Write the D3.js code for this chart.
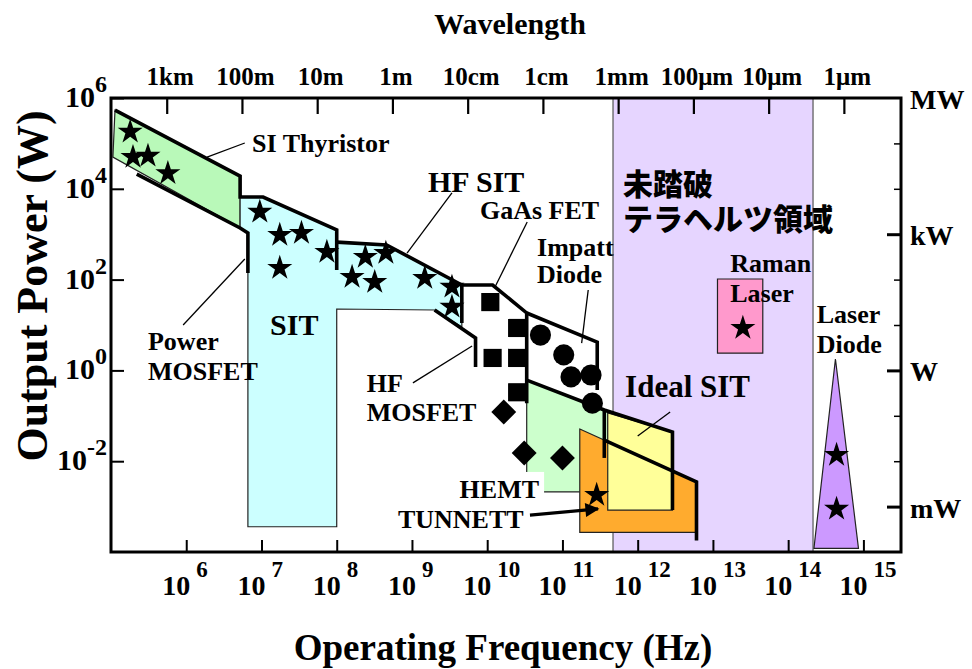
<!DOCTYPE html>
<html>
<head>
<meta charset="utf-8">
<script src="https://cdn.jsdelivr.net/npm/d3@7"></script>
<style>
  body { margin: 0; background: #fff; }
  text { font-family: "Liberation Serif", "Times New Roman", serif; font-weight: bold; fill: #000; }
  .jp { font-family: "Noto Sans CJK JP", sans-serif; font-weight: 900; }
</style>
</head>
<body>
<svg id="chart" width="972" height="669"></svg>
<script>
// ---- axes ----
const freqTicks = [1e6, 1e7, 1e8, 1e9, 1e10, 1e11, 1e12, 1e13, 1e14, 1e15];
const powerTicks = [1e6, 1e4, 1e2, 1, 1e-2];
const unitValues = [1e6, 1e3, 1, 1e-3];
const unitLabels = ["MW", "kW", "W", "mW"];
const unitMinorTicks = [1e5, 1e4, 1e2, 1e1, 1e-1, 1e-2];
const waveLabels = ["1km", "100m", "10m", "1m", "10cm", "1cm", "1mm", "100\u03bcm", "10\u03bcm", "1\u03bcm"];
const waveMeters = [1e3, 1e2, 10, 1, 0.1, 0.01, 1e-3, 1e-4, 1e-5, 1e-6];
const waveRef = 5.5e8; // wavelength (m) x frequency (Hz) used by the top scale

// ---- device regions: [frequency Hz, power W] ----
const terahertzBand = [4.7e11, 2.14e14];
const siThyristorArea = [[1.13e5, 5.4e5], [5.2e6, 1.9e4], [5.2e6, 1.37e3], [1.06e5, 5.0e4]];
const sitArea = [[5.2e6, 6.6e3], [1.05e7, 6.6e3], [1.0e8, 1.24e3], [1.0e8, 670], [4.6e8, 580],
  [4.6e9, 76], [4.6e9, 9.0], [2.0e9, 21.4], [1.0e8, 22.5], [1.0e8, 3.6e-4], [6.6e6, 3.6e-4],
  [6.6e6, 1.06e3], [5.2e6, 1.37e3]];
const hemtArea = [[3.35e10, 0.61], [4.0e11, 0.12], [4.0e11, 2.1e-3], [3.35e10, 2.1e-3]];
const tunnettArea = [[1.7e11, 0.051], [6.05e12, 3.5e-3], [6.05e12, 2.7e-4], [1.7e11, 2.7e-4]];
const idealSitArea = [[4.0e11, 0.115], [2.9e12, 0.044], [2.9e12, 8.4e-4], [4.0e11, 8.4e-4]];
const ramanArea = [[1.15e13, 103], [4.6e13, 103], [4.6e13, 2.4], [1.15e13, 2.4]];
const laserDiodeArea = [[4.25e14, 1.78], [8.6e14, 1.2e-4], [2.2e14, 1.2e-4]];

// ---- performance limit lines ----
const thyristorSitLimit = [[1.13e5, 5.4e5], [5.2e6, 1.9e4], [5.2e6, 6.6e3], [1.05e7, 6.6e3], [1.0e8, 1.24e3], [1.0e8, 163]];
const powerMosfetLimit = [[2.2e5, 2.1e4], [5.2e6, 1.37e3], [6.6e6, 1.06e3], [6.6e6, 140]];
const hfSitLimit = [[1.0e8, 670], [4.6e8, 580], [4.6e9, 76], [4.6e9, 11.1]];
const hfMosfetLimit = [[2.0e9, 21.4], [7.0e9, 5.2], [7.0e9, 1.19]];
const gaasFetLimit = [[4.6e9, 76], [1.18e10, 76], [3.35e10, 18.4], [3.35e10, 0.19]];
const impattLimit = [[3.35e10, 18.4], [2.9e11, 4.2], [2.9e11, 0.37]];
const hemtIdealSitLimit = [[3.35e10, 0.61], [3.6e11, 0.134], [2.9e12, 0.044], [2.9e12, 8.4e-4]];
const idealSitEdge = [[3.6e11, 0.134], [3.6e11, 0.0118]];
const tunnettLimit = [[3.6e11, 0.029], [6.05e12, 3.5e-3], [6.05e12, 1.8e-4]];

// ---- reported devices ----
const thyristorStars = [[1.8e5, 1.8e5], [1.96e5, 5.0e4], [3.1e5, 5.3e4], [5.7e5, 2.2e4]];
const sitStars = [[9.5e6, 3.1e3], [1.75e7, 960], [3.4e7, 1.06e3], [7.4e7, 405], [1.75e7, 180],
  [2.4e8, 315], [4.5e8, 385], [1.6e8, 114], [3.2e8, 88], [1.48e9, 108], [3.4e9, 69], [3.4e9, 25]];
const gaasFetPoints = [[1.1e10, 32], [2.5e10, 8.6], [1.18e10, 1.88], [2.5e10, 1.88], [2.5e10, 0.33]];
const impattPoints = [[5.1e10, 6.0], [1.04e11, 2.2], [1.3e11, 0.72], [2.4e11, 0.79], [2.5e11, 0.19]];
const hemtPoints = [[1.66e10, 0.121], [3.1e10, 0.0152], [1.0e11, 0.0118]];
const tunnettStars = [[2.85e11, 1.8e-3]];
const ramanStars = [[2.5e13, 8.6]];
const laserDiodeStars = [[4.4e14, 0.0137], [4.4e14, 8.9e-4]];

// ---- annotations ----
const labelTexts = ["SI Thyristor", "HF SIT", "GaAs FET", "Impatt", "Diode", "SIT", "Power", "MOSFET",
  "HF", "MOSFET", "HEMT", "TUNNETT", "Ideal SIT", "Raman", "Laser", "Laser", "Diode"];
const labelAnchors = [[7.5e6, 6.5e4], [1.63e9, 8.5e3], [8.0e9, 2.16e3], [4.6e10, 331], [4.6e10, 84],
  [1.3e7, 6.0], [3.1e5, 2.8], [3.1e5, 0.62], [2.5e8, 0.33], [2.5e8, 0.077], [4.3e9, 1.55e-3],
  [6.5e8, 3.4e-4], [6.8e11, 0.26], [1.7e13, 147], [1.7e13, 32], [2.4e14, 11.1], [2.4e14, 2.4]];
const labelSizes = [26, 30, 26, 26, 26, 30, 26, 26, 26, 26, 26, 26, 31, 26, 26, 26, 26];
const regionTitle = ["未踏破", "テラヘルツ領域"];
const regionTitleAnchors = [[6.4e11, 7.3e3], [6.4e11, 1.24e3]];
const leaderLines = [
  [[1.89e6, 5.0e4], [6.0e6, 1.02e5]],
  [[8.6e8, 385], [3.4e9, 8.1e3]],
  [[1.27e10, 69], [3.4e10, 1.86e3]],
  [[1.8e11, 4.0], [2.2e11, 59]],
  [[1.03e9, 0.53], [6.3e9, 3.44]],
  [[9.1e5, 10], [6.0e6, 285]],
  [[1.0e12, 0.036], [2.7e12, 0.121]]
];
const tunnettArrow = [[3.7e10, 6.5e-4], [2.97e11, 8.9e-4]];

// ---- layout ----
const width = 972, height = 669;
const margin = { top: 98, right: 71, bottom: 117, left: 111 };
const x = d3.scaleLog().domain([1e5, 3.16e15]).range([margin.left, width - margin.right]);
const y = d3.scaleLog().domain([1e-4, 1e6]).range([height - margin.bottom, margin.top]);
const waveScale = d3.scaleLog()
  .domain(x.domain().map(f => waveRef / f))
  .range(x.range());
const x0 = margin.left, x1 = width - margin.right, y0 = height - margin.bottom, y1 = margin.top;

const svg = d3.select("#chart");
const line = d3.line().x(d => x(d[0])).y(d => y(d[1]));
const poly = pts => line(pts) + "Z";

// terahertz gap band
svg.append("rect")
  .attr("x", x(terahertzBand[0])).attr("y", y1)
  .attr("width", x(terahertzBand[1]) - x(terahertzBand[0]))
  .attr("height", y0 - y1)
  .attr("fill", "#e6d5ff").attr("stroke", "#555").attr("stroke-width", 1.2);

// filled regions
const regions = [
  [siThyristorArea, "#b9f9b9"],
  [sitArea, "#ccffff"],
  [hemtArea, "#ccffcc"],
  [tunnettArea, "#ffab2e"],
  [idealSitArea, "#ffff99"],
  [ramanArea, "#ff99cc"],
  [laserDiodeArea, "#cc99ff"]
];
svg.append("g").selectAll("path").data(regions).join("path")
  .attr("d", d => poly(d[0]))
  .attr("fill", d => d[1])
  .attr("stroke", "#222").attr("stroke-width", 1.2).attr("stroke-linejoin", "miter");

// limit lines
const limits = [thyristorSitLimit, powerMosfetLimit, hfSitLimit, hfMosfetLimit, gaasFetLimit,
  impattLimit, hemtIdealSitLimit, idealSitEdge, tunnettLimit];
svg.append("g").selectAll("path").data(limits).join("path")
  .attr("d", line)
  .attr("fill", "none").attr("stroke", "#000").attr("stroke-width", 3.6)
  .attr("stroke-linejoin", "miter");

// leader lines
svg.append("g").selectAll("path").data(leaderLines).join("path")
  .attr("d", line).attr("fill", "none").attr("stroke", "#000").attr("stroke-width", 1.3);

// arrow to TUNNETT
svg.append("defs").append("marker")
  .attr("id", "arrow").attr("viewBox", "0 0 10 10").attr("refX", 9).attr("refY", 5)
  .attr("markerUnits", "userSpaceOnUse").attr("markerWidth", 20).attr("markerHeight", 14)
  .attr("orient", "auto")
  .append("path").attr("d", "M0,0L10,5L0,10Z").attr("fill", "#000");
svg.append("path").attr("d", line(tunnettArrow))
  .attr("stroke", "#000").attr("stroke-width", 3.2).attr("fill", "none")
  .attr("marker-end", "url(#arrow)");

// markers
const starPath = d3.symbol().type(d3.symbolStar).size(195)();
const squarePath = d3.symbol().type(d3.symbolSquare).size(330)();
const circlePath = d3.symbol().type(d3.symbolCircle).size(350)();
const diamondPath = d3.symbol().type(d3.symbolSquare).size(310)();
function drawMarks(points, path, rotate) {
  svg.append("g").selectAll("path").data(points).join("path")
    .attr("d", path)
    .attr("transform", d => `translate(${x(d[0])},${y(d[1])})` + (rotate ? ` rotate(${rotate})` : ""))
    .attr("fill", "#000");
}
drawMarks(thyristorStars, starPath);
drawMarks(sitStars, starPath);
drawMarks(gaasFetPoints, squarePath);
drawMarks(impattPoints, circlePath);
drawMarks(hemtPoints, diamondPath, 45);
drawMarks(tunnettStars, starPath);
drawMarks(ramanStars, starPath);
drawMarks(laserDiodeStars, starPath);

// device labels
const labelG = svg.append("g");
labelTexts.forEach((t, i) => {
  const txt = labelG.append("text")
    .attr("x", x(labelAnchors[i][0])).attr("y", y(labelAnchors[i][1]))
    .attr("font-size", labelSizes[i]).text(t);
  if (t === "HEMT") {
    const b = txt.node().getBBox();
    labelG.insert("rect", () => txt.node())
      .attr("x", b.x - 5).attr("y", b.y - 3).attr("width", b.width + 10).attr("height", b.height + 4)
      .attr("fill", "#fff");
  }
});
// two-line title of the terahertz gap, set as one text block
const jpTitle = svg.append("text").attr("class", "jp").attr("font-size", 30);
regionTitle.forEach((t, i) => {
  jpTitle.append("tspan")
    .attr("x", x(regionTitleAnchors[i][0])).attr("y", y(regionTitleAnchors[i][1]))
    .text(t);
});

// ---- axes ----
svg.append("g").attr("transform", `translate(0,${y0})`)
  .call(d3.axisBottom(x).tickValues(freqTicks).tickSizeInner(-12).tickSizeOuter(0).tickFormat(""))
  .call(g => { g.select(".domain").remove(); g.selectAll("line").attr("stroke-width", 2); });
svg.append("g").attr("transform", `translate(${x0},0)`)
  .call(d3.axisLeft(y).tickValues(powerTicks).tickSizeInner(-13).tickSizeOuter(0).tickFormat(""))
  .call(g => { g.select(".domain").remove(); g.selectAll("line").attr("stroke-width", 2); });
svg.append("g").attr("transform", `translate(0,${y1})`)
  .call(d3.axisTop(waveScale).tickValues(waveMeters).tickSizeInner(-16).tickSizeOuter(0)
    .tickPadding(13).tickFormat((d, i) => waveLabels[i]))
  .call(g => {
    g.select(".domain").remove();
    g.selectAll("line").attr("stroke-width", 2.2);
    g.selectAll("text").attr("font-size", 25).attr("dx", 3)
      .attr("font-family", "Liberation Serif, serif").attr("font-weight", "bold");
  });
svg.append("g").attr("transform", `translate(${x1},0)`)
  .call(d3.axisRight(y).tickValues(unitMinorTicks).tickSizeInner(-7).tickSizeOuter(0).tickFormat(""))
  .call(g => { g.select(".domain").remove(); g.selectAll("line").attr("stroke-width", 1.5); });
svg.append("g").attr("transform", `translate(${x1},0)`)
  .call(d3.axisRight(y).tickValues(unitValues.slice(1)).tickSizeInner(-14).tickSizeOuter(0).tickFormat(""))
  .call(g => { g.select(".domain").remove(); g.selectAll("line").attr("stroke-width", 3); });

// frequency tick labels 10^n
freqTicks.forEach(f => {
  const e = Math.round(Math.log10(f));
  svg.append("text").attr("x", x(f) - 24).attr("y", y0 + 43).attr("font-size", 28).text("10");
  svg.append("text").attr("x", x(f) + 10).attr("y", y0 + 25).attr("font-size", 23).text(e);
});
// power tick labels 10^n
powerTicks.forEach(p => {
  const e = Math.round(Math.log10(p));
  const t = svg.append("text").attr("x", x0 - 4).attr("y", y(p) + 9)
    .attr("text-anchor", "end").attr("font-size", 30);
  t.append("tspan").text("10");
  t.append("tspan").attr("font-size", 24).attr("dy", -15).text(e);
});
// unit labels on the right
unitValues.forEach((v, i) => {
  svg.append("text").attr("x", x1 + 9).attr("y", y(v) + 11).attr("font-size", 28).text(unitLabels[i]);
});

// frame
svg.append("rect").attr("x", x0).attr("y", y1).attr("width", x1 - x0).attr("height", y0 - y1)
  .attr("fill", "none").attr("stroke", "#000").attr("stroke-width", 3);

// titles
svg.append("text").attr("x", 510).attr("y", 34).attr("text-anchor", "middle")
  .attr("font-size", 30).text("Wavelength");
svg.append("text").attr("x", 503).attr("y", 660).attr("text-anchor", "middle")
  .attr("font-size", 37).text("Operating Frequency (Hz)");
svg.append("text").attr("transform", "translate(47,286) rotate(-90)").attr("text-anchor", "middle")
  .attr("font-size", 44).text("Output Power (W)");
</script>
</body>
</html>
